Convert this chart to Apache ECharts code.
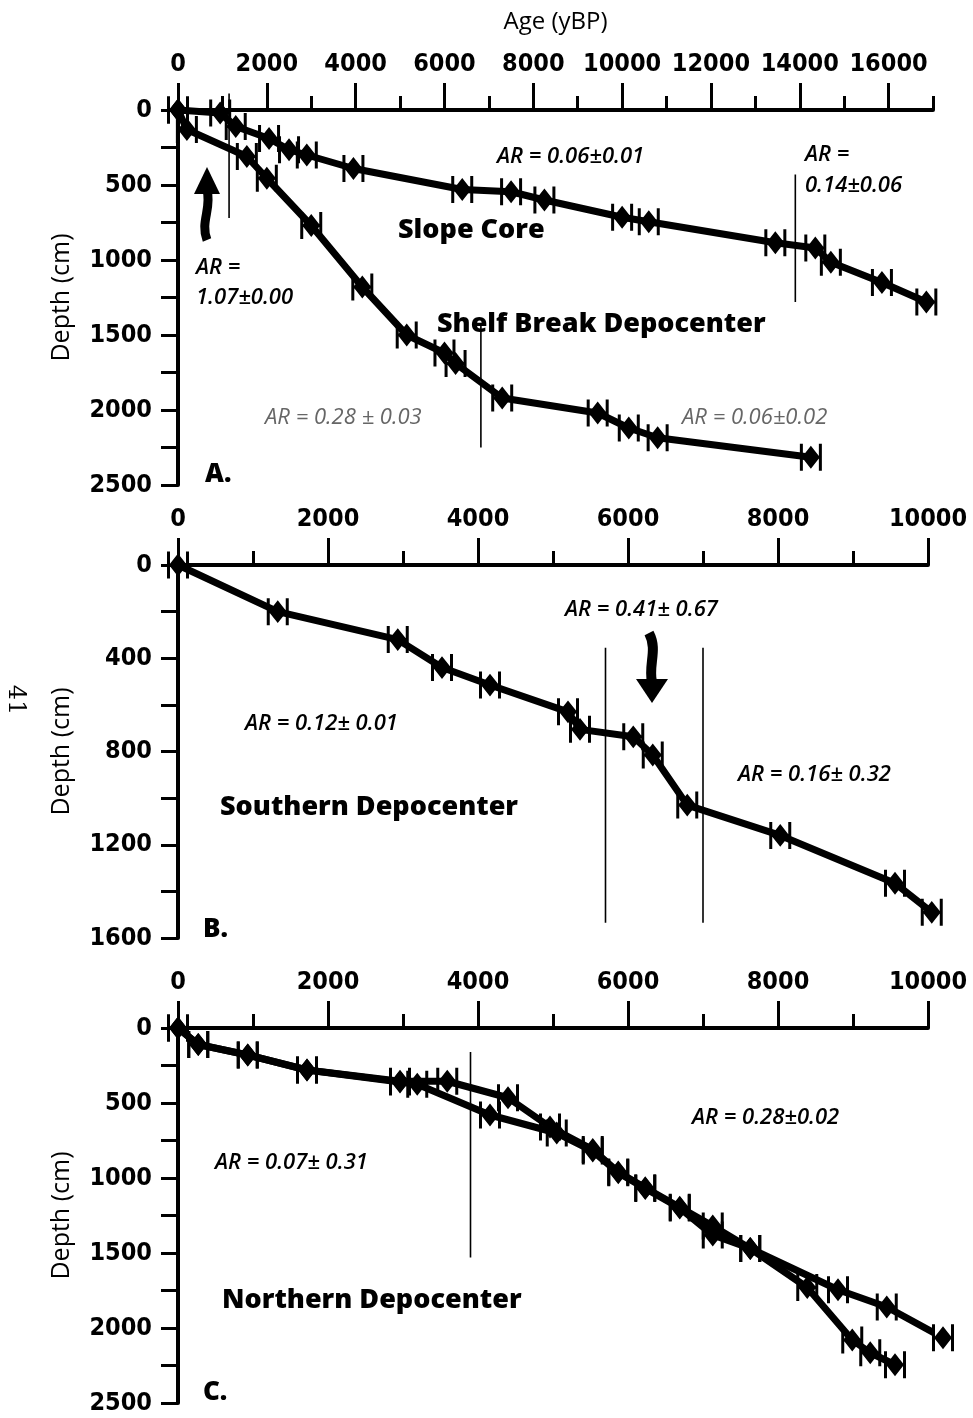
<!DOCTYPE html>
<html>
<head>
<meta charset="utf-8">
<script src="https://cdn.jsdelivr.net/npm/echarts@6/dist/echarts.min.js"></script>
<style>
html,body{margin:0;padding:0;background:#fff;}
#c{width:973px;height:1418px;}
</style>
</head>
<body>
<div id="c"></div>
<script>
// ---------- DATA ----------
// Panel A
const slopeAge   = [0, 950, 1300, 2050, 2500, 2900, 3950, 6400, 7500, 8250, 10000, 10600, 13450, 14350, 14700, 15850, 16850];
const slopeDepth = [0, 20, 110, 190, 265, 300, 390, 530, 545, 600, 715, 745, 885, 920, 1015, 1150, 1280];
const shelfAge   = [0, 200, 1550, 2000, 3000, 4150, 5150, 6000, 6250, 7300, 9450, 10150, 10800, 14250];
const shelfDepth = [0, 130, 310, 455, 770, 1180, 1500, 1620, 1690, 1920, 2020, 2120, 2185, 2315];
// Panel B
const southAge   = [0, 1330, 2930, 3520, 4160, 5200, 5360, 6070, 6330, 6790, 8030, 9560, 10050];
const southDepth = [0, 200, 320, 440, 515, 630, 705, 737, 815, 1030, 1160, 1365, 1490];
// Panel C
const northAAge   = [0, 270, 930, 1720, 2960, 3590, 4400, 4960, 5530, 5870, 6230, 6690, 7130, 7630, 8800, 9450, 10200];
const northADepth = [0, 110, 180, 280, 355, 355, 465, 660, 810, 960, 1065, 1195, 1320, 1470, 1745, 1860, 2065];
const northBAge   = [0, 270, 930, 1720, 2960, 3190, 4160, 5050, 5530, 5870, 6230, 6690, 7130, 7630, 8390, 8990, 9230, 9560];
const northBDepth = [0, 110, 180, 280, 360, 375, 580, 700, 820, 965, 1070, 1200, 1380, 1470, 1730, 2080, 2165, 2245];
// Boundary lines [age, depthTop, depthBottom]
const boundA = [[1150, -110, 720], [6820, 1420, 2250], [13900, 430, 1280]];
const boundB = [[5700, 355, 1535], [7000, 355, 1535]];
const boundC = [[3900, 160, 1530]];
// Axis ticks
const xMajorA = [0, 2000, 4000, 6000, 8000, 10000, 12000, 14000, 16000];
const xMaxA = 17000, xMaxBC = 10000;
const yMaxA = 2500, yMaxB = 1600, yMaxC = 2500;

// ---------- STYLE ----------
const tickFont = {fontFamily: 'DejaVu Sans Condensed', fontWeight: 'bold', fontSize: 25, color: '#000'};
const nameFont = {fontFamily: 'Open Sans', fontSize: 25, color: '#000'};
const marker = 'path://M0,0h3v26h-3z M19,0h3v26h-3z M11,2 L20,13 L11,24 L2,13 Z';

function zip(a, b) { return a.map((v, i) => [v, b[i]]); }

const grids = [
  {left: 178, top: 110, width: 755, height: 375},
  {left: 178, top: 565, width: 750, height: 373},
  {left: 178, top: 1028, width: 750, height: 375}
];

const xAxes = [];
const yAxes = [];
[xMaxA, xMaxBC, xMaxBC].forEach((mx, g) => {
  xAxes.push({
    type: 'value', gridIndex: g, position: 'top', min: 0, max: mx, interval: 1000,
    name: g === 0 ? 'Age (yBP)' : '', nameLocation: 'middle', nameGap: 76,
    nameTextStyle: {fontFamily: 'Open Sans', fontSize: 24, color: '#000'},
    axisLine: {show: true, lineStyle: {color: '#000', width: 4}},
    axisTick: {show: true, length: 14, lineStyle: {color: '#000', width: 3}},
    axisLabel: Object.assign({margin: 33, formatter: v => (v % 2000 === 0 ? String(v) : '')}, tickFont),
    splitLine: {show: false}
  });
});
[xMaxA, xMaxBC, xMaxBC].forEach((mx, g) => {
  const ax = {
    type: 'value', gridIndex: g, position: 'top', min: 0, max: mx, interval: 2000,
    axisLine: {show: false},
    axisTick: {show: true, length: 27, lineStyle: {color: '#000', width: 3}},
    axisLabel: {show: false},
    splitLine: {show: false}
  };
  if (g === 0) ax.axisTick.customValues = xMajorA;
  xAxes.push(ax);
});
[[yMaxA, 250, 500], [yMaxB, 200, 400], [yMaxC, 250, 500]].forEach((c, g) => {
  yAxes.push({
    type: 'value', gridIndex: g, inverse: true, min: 0, max: c[0], interval: c[1],
    name: 'Depth (cm)', nameLocation: 'middle', nameGap: 104, nameTextStyle: nameFont,
    axisLine: {show: true, lineStyle: {color: '#000', width: 4}},
    axisTick: {show: true, length: 17, lineStyle: {color: '#000', width: 3}},
    axisLabel: Object.assign({margin: 26, formatter: v => (v % c[2] === 0 ? String(v) : '')}, tickFont),
    splitLine: {show: false}
  });
});

function core(name, g, ages, depths) {
  return {
    name: name, type: 'line', xAxisIndex: g, yAxisIndex: g, data: zip(ages, depths),
    symbol: marker, symbolSize: [22, 27], showSymbol: true, clip: false,
    lineStyle: {color: '#000', width: 7}, itemStyle: {color: '#000'}, z: 5
  };
}
function bounds(g, list) {
  return list.map(b => ({
    type: 'line', xAxisIndex: g, yAxisIndex: g, data: [[b[0], b[1]], [b[0], b[2]]],
    symbol: 'none', clip: false, lineStyle: {color: '#000', width: 1.6}, z: 3, silent: true
  }));
}

const series = [
  core('Slope Core', 0, slopeAge, slopeDepth),
  core('Shelf Break Depocenter', 0, shelfAge, shelfDepth),
  core('Southern Depocenter', 1, southAge, southDepth),
  core('Northern Depocenter 1', 2, northAAge, northADepth),
  core('Northern Depocenter 2', 2, northBAge, northBDepth)
].concat(bounds(0, boundA), bounds(1, boundB), bounds(2, boundC));

// ---------- ANNOTATIONS ----------
function txt(t, x, y, kind) {
  const s = {text: t, x: x, y: y, verticalAlign: 'middle', align: 'left', fill: '#000', fontFamily: 'Open Sans'};
  if (kind === 'ar') { s.fontSize = 22; s.fontStyle = 'italic'; s.fontWeight = 600; }
  else if (kind === 'light') { s.fontSize = 22; s.fontStyle = 'italic'; s.fontWeight = 'normal'; s.fill = '#666'; }
  else if (kind === 'bold') { s.fontSize = 27; s.fontWeight = 800; }
  else if (kind === 'panel') { s.fontSize = 26; s.fontWeight = 800; }
  return {type: 'text', style: s, z: 10};
}
const graphic = [
  txt('AR = 0.06±0.01', 497, 157, 'ar'),
  txt('AR =', 805, 155, 'ar'),
  txt('0.14±0.06', 805, 186, 'ar'),
  txt('Slope Core', 398, 230, 'bold'),
  txt('AR =', 196, 268, 'ar'),
  txt('1.07±0.00', 196, 298, 'ar'),
  txt('Shelf Break Depocenter', 437, 324, 'bold'),
  txt('AR = 0.28 ± 0.03', 265, 418, 'light'),
  txt('AR = 0.06±0.02', 682, 418, 'light'),
  txt('A.', 205, 475, 'panel'),
  txt('AR = 0.41± 0.67', 565, 610, 'ar'),
  txt('AR = 0.12± 0.01', 245, 724, 'ar'),
  txt('AR = 0.16± 0.32', 738, 775, 'ar'),
  txt('Southern Depocenter', 220, 807, 'bold'),
  txt('B.', 203, 930, 'panel'),
  txt('AR = 0.28±0.02', 692, 1118, 'ar'),
  txt('AR = 0.07± 0.31', 215, 1163, 'ar'),
  txt('Northern Depocenter', 222, 1300, 'bold'),
  txt('C.', 203, 1393, 'panel'),
  {type: 'text', x: 15, y: 700, rotation: -Math.PI / 2,
   style: {text: '41', x: 0, y: 0, align: 'center', verticalAlign: 'middle', fill: '#000',
           fontFamily: 'DejaVu Serif', fontSize: 24}},
  // wavy up arrow (panel A)
  {type: 'bezierCurve', shape: {x1: 207, y1: 240, cpx1: 200, cpy1: 222, cpx2: 212, cpy2: 208, x2: 207, y2: 190},
   style: {stroke: '#000', lineWidth: 9, fill: null}, z: 10},
  {type: 'polygon', shape: {points: [[194, 194], [207, 167], [220, 194]]}, style: {fill: '#000'}, z: 10},
  // wavy down arrow (panel B)
  {type: 'bezierCurve', shape: {x1: 649, y1: 633, cpx1: 658, cpy1: 650, cpx2: 648, cpy2: 665, x2: 652, y2: 682},
   style: {stroke: '#000', lineWidth: 10, fill: null}, z: 10},
  {type: 'polygon', shape: {points: [[636, 679], [668, 679], [652, 703]]}, style: {fill: '#000'}, z: 10}
];

const chart = echarts.init(document.getElementById('c'), null, {renderer: 'canvas'});
chart.setOption({
  backgroundColor: '#fff',
  animation: false,
  grid: grids,
  xAxis: xAxes,
  yAxis: yAxes,
  series: series,
  graphic: graphic
});
</script>
</body>
</html>
